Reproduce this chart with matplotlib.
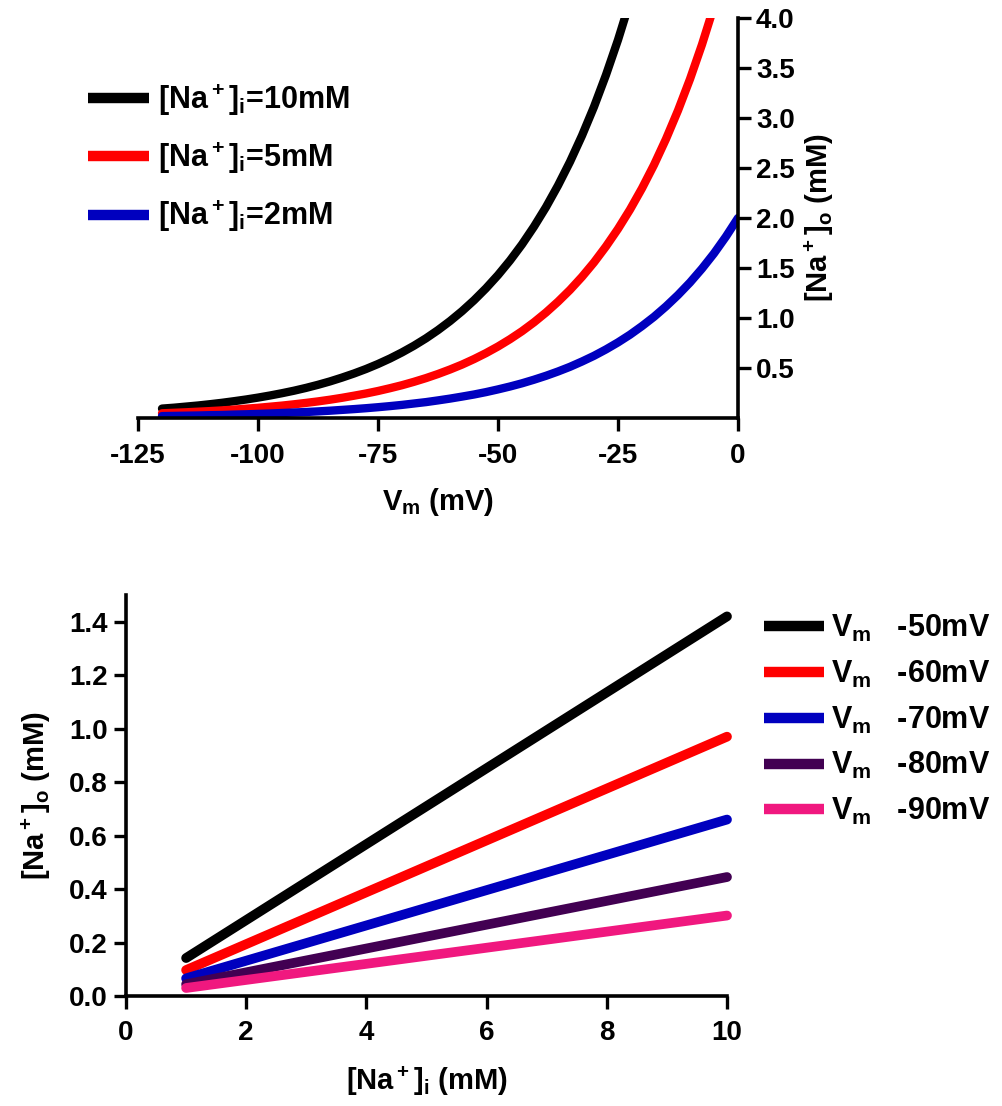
import matplotlib
matplotlib.use('Agg')
import matplotlib.pyplot as plt

# data
vm = [-120, -117.5, -115, -112.5, -110, -107.5, -105, -102.5, -100, -97.5,
      -95, -92.5, -90, -87.5, -85, -82.5, -80, -77.5, -75, -72.5,
      -70, -67.5, -65, -62.5, -60, -57.5, -55, -52.5, -50, -47.5,
      -45, -42.5, -40, -37.5, -35, -32.5, -30, -27.5, -25, -22.5,
      -20, -17.5, -15, -12.5, -10, -7.5, -5, -2.5, 0]
nao_10 = [0.094, 0.103, 0.114, 0.125, 0.138, 0.152, 0.168, 0.185, 0.204, 0.225,
          0.248, 0.273, 0.301, 0.332, 0.366, 0.404, 0.445, 0.490, 0.540, 0.595,
          0.656, 0.723, 0.797, 0.879, 0.969, 1.068, 1.177, 1.297, 1.429, 1.575,
          1.736, 1.914, 2.109, 2.325, 2.562, 2.824, 3.112, 3.431, 3.781, 4.167,
          4.593, 5.062, 5.579, 6.149, 6.777, 7.469, 8.232, 9.073, 10.0]
nao_5 = [0.047, 0.052, 0.057, 0.063, 0.069, 0.076, 0.084, 0.093, 0.102, 0.113,
         0.124, 0.137, 0.151, 0.166, 0.183, 0.202, 0.223, 0.245, 0.270, 0.298,
         0.328, 0.362, 0.399, 0.440, 0.485, 0.534, 0.589, 0.649, 0.715, 0.788,
         0.868, 0.957, 1.055, 1.163, 1.281, 1.412, 1.556, 1.716, 1.891, 2.084,
         2.297, 2.531, 2.790, 3.075, 3.389, 3.735, 4.116, 4.537, 5.0]
nao_2 = [0.019, 0.021, 0.023, 0.025, 0.028, 0.030, 0.034, 0.037, 0.041, 0.045,
         0.050, 0.055, 0.060, 0.066, 0.073, 0.081, 0.089, 0.098, 0.108, 0.119,
         0.131, 0.145, 0.159, 0.176, 0.194, 0.214, 0.235, 0.259, 0.286, 0.315,
         0.347, 0.383, 0.422, 0.465, 0.512, 0.565, 0.622, 0.686, 0.756, 0.833,
         0.919, 1.012, 1.116, 1.230, 1.355, 1.494, 1.646, 1.815, 2.0]
top_labels = ['[Na$^+$]$_i$=10mM', '[Na$^+$]$_i$=5mM', '[Na$^+$]$_i$=2mM']
top_colors = ['#000000', '#FF0000', '#0000BF']

nai = [1, 10]
nao_50 = [0.142, 1.42]
nao_60 = [0.097, 0.97]
nao_70 = [0.066, 0.66]
nao_80 = [0.044, 0.445]
nao_90 = [0.030, 0.301]
bot_labels = ['V$_m$   -50mV', 'V$_m$   -60mV', 'V$_m$   -70mV', 'V$_m$   -80mV', 'V$_m$   -90mV']
bot_colors = ['#000000', '#FF0000', '#0000BF', '#420052', '#F0187F']

fam = 'Liberation Sans'
plt.rcParams['font.family'] = [fam, 'DejaVu Sans']
plt.rcParams['font.weight'] = 'bold'
plt.rcParams['axes.labelweight'] = 'bold'
plt.rcParams['axes.unicode_minus'] = False
plt.rcParams['mathtext.fontset'] = 'custom'
plt.rcParams['mathtext.bf'] = fam + ':bold'
plt.rcParams['mathtext.rm'] = fam + ':bold'
plt.rcParams['mathtext.it'] = fam + ':bold'
plt.rcParams['mathtext.default'] = 'bf'

W, H = 1003, 1106
fig = plt.figure(figsize=(W / 100, H / 100), dpi=100)

def box(l, t, r, b):
    return [l / W, 1 - b / H, (r - l) / W, (b - t) / H]

spine_w = 2.6
tick_kw = dict(width=2.4, length=9, labelsize=20, direction='out', pad=4)

def fix_legend(leg):
    for ln in leg.get_lines():
        ln.set_solid_capstyle('butt')
        ln.set_linewidth(7.5)

# ---- top panel
ax1 = fig.add_axes(box(138, 18, 738, 418))
for y, c, lab in zip([nao_10, nao_5, nao_2], top_colors, top_labels):
    ax1.plot(vm, y, color=c, lw=6, solid_capstyle='round', label=lab)
ax1.set_xlim(-125, 0)
ax1.set_ylim(0, 4)
ax1.set_xticks([-125, -100, -75, -50, -25, 0])
ax1.set_yticks([0.5, 1.0, 1.5, 2.0, 2.5, 3.0, 3.5, 4.0])
ax1.set_yticklabels(['0.5', '1.0', '1.5', '2.0', '2.5', '3.0', '3.5', '4.0'])
ax1.yaxis.tick_right()
ax1.yaxis.set_label_position('right')
ax1.spines['top'].set_visible(False)
ax1.spines['left'].set_visible(False)
for s in ['bottom', 'right']:
    ax1.spines[s].set_linewidth(spine_w)
ax1.tick_params(**tick_kw)
ax1.tick_params(axis='x', pad=9)
ax1.set_xlabel('V$_m$ (mV)', fontsize=21, labelpad=12)
ax1.set_ylabel('[Na$^+$]$_o$ (mM)', fontsize=21, labelpad=6)
leg1 = fig.legend(*ax1.get_legend_handles_labels(), loc='upper left',
                  bbox_to_anchor=(88 / W, 1 - 82 / H), frameon=False, fontsize=22,
                  handlelength=2.0, labelspacing=0.75, borderpad=0, borderaxespad=0,
                  handletextpad=0.3)
fix_legend(leg1)

# ---- bottom panel
ax2 = fig.add_axes(box(126, 595, 727, 996))
for y, c, lab in zip([nao_50, nao_60, nao_70, nao_80, nao_90], bot_colors, bot_labels):
    ax2.plot(nai, y, color=c, lw=7, solid_capstyle='round', label=lab, clip_on=False)
ax2.set_xlim(0, 10)
ax2.set_ylim(0, 1.5)
ax2.set_xticks([0, 2, 4, 6, 8, 10])
ax2.set_yticks([0.0, 0.2, 0.4, 0.6, 0.8, 1.0, 1.2, 1.4])
ax2.set_yticklabels(['0.0', '0.2', '0.4', '0.6', '0.8', '1.0', '1.2', '1.4'])
ax2.spines['top'].set_visible(False)
ax2.spines['right'].set_visible(False)
for s in ['bottom', 'left']:
    ax2.spines[s].set_linewidth(spine_w)
ax2.tick_params(**tick_kw)
ax2.tick_params(axis='x', pad=8)
ax2.set_xlabel('[Na$^+$]$_i$ (mM)', fontsize=21, labelpad=14)
ax2.set_ylabel('[Na$^+$]$_o$ (mM)', fontsize=21, labelpad=12)
leg2 = fig.legend(*ax2.get_legend_handles_labels(), loc='upper left',
                  bbox_to_anchor=(764 / W, 1 - 613 / H), frameon=False, fontsize=22,
                  handlelength=1.95, labelspacing=0.48, borderpad=0, borderaxespad=0,
                  handletextpad=0.25)
fix_legend(leg2)

fig.savefig('out.png', dpi=100)
